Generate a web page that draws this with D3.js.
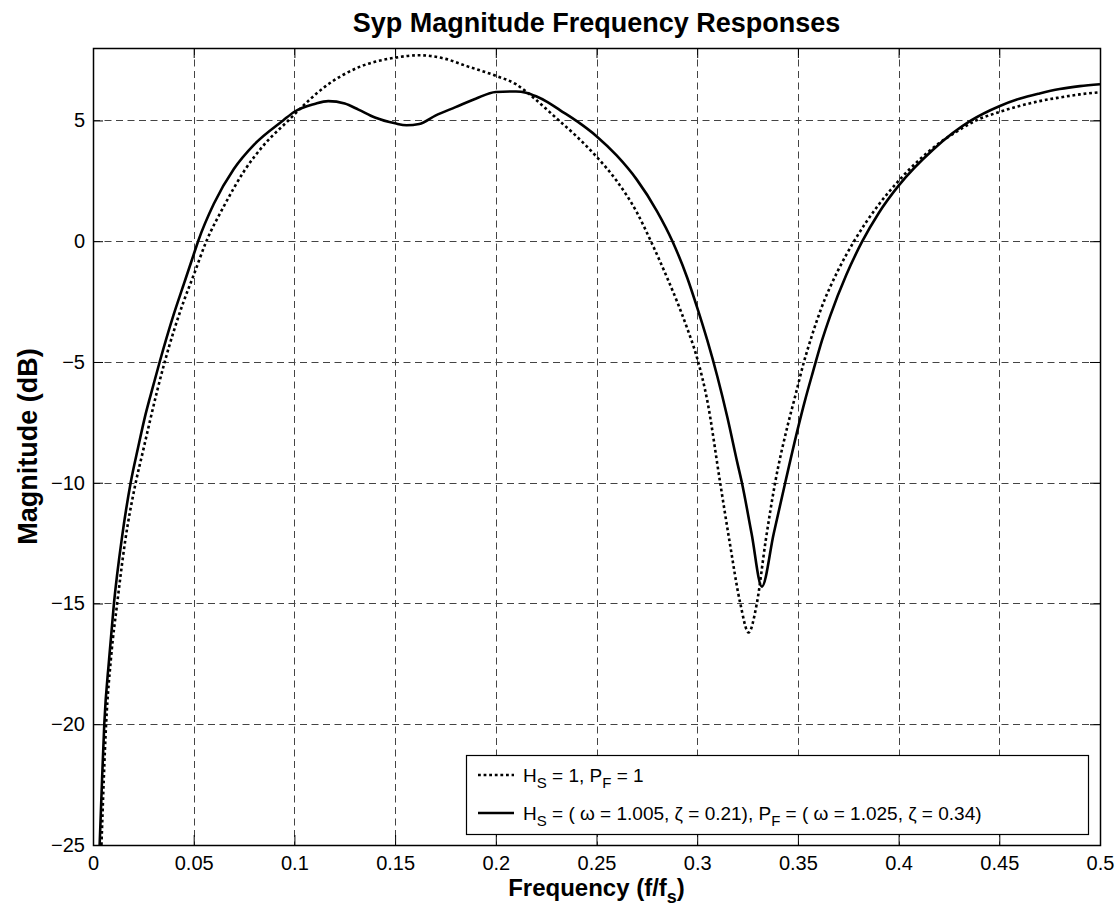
<!DOCTYPE html>
<html>
<head>
<meta charset="utf-8">
<script src="https://cdn.jsdelivr.net/npm/d3@7"></script>
<style>
    body { margin: 0; background: #fff; }
    svg { display: block; font-family: "Liberation Sans", Arial, sans-serif; }
</style>
</head>
<body>
<div id="chart"></div>
<script>
// x values (f/fs) and magnitudes (dB)
const freqFlat = [0.0042, 0.0065, 0.009, 0.012, 0.016, 0.0212, 0.0248, 0.0284, 0.032, 0.0356,
    0.04, 0.045, 0.05, 0.0563, 0.065, 0.075, 0.085, 0.097, 0.1, 0.1152, 0.1318, 0.15, 0.162,
    0.175, 0.1856, 0.2, 0.21, 0.215, 0.22, 0.23, 0.24, 0.25, 0.26, 0.27, 0.277, 0.285, 0.29,
    0.295, 0.3, 0.305, 0.3114, 0.316, 0.3214, 0.3255, 0.3296, 0.334, 0.3387, 0.345, 0.3484,
    0.353, 0.357, 0.3615, 0.37, 0.3779, 0.39, 0.4, 0.41, 0.42, 0.43, 0.4385, 0.45, 0.46, 0.47,
    0.48, 0.49, 0.5];
const magFlat = [-25, -20, -17.2, -15, -12.4, -10, -8.7, -7.4, -6.15, -5,
    -3.75, -2.5, -1.4, 0, 1.45, 2.9, 4.0, 5.0, 5.25, 6.4, 7.2, 7.6, 7.7,
    7.55, 7.25, 6.85, 6.5, 6.2, 5.85, 5.1, 4.35, 3.5, 2.5, 1.2, 0, -1.5, -2.5,
    -3.6, -4.85, -6.6, -10, -12.4, -15, -16.2, -15, -12.4, -10, -7.6, -6.5,
    -5.0, -3.9, -2.8, -1.2, 0, 1.5, 2.5, 3.35, 4.05, 4.6, 5.0, 5.35, 5.6, 5.8,
    5.95, 6.08, 6.17];

const freqTuned = [0.0033, 0.0045, 0.0056, 0.008, 0.0104, 0.0145, 0.0187, 0.0225, 0.026, 0.03,
    0.0331, 0.04, 0.045, 0.05, 0.0522, 0.06, 0.07, 0.08, 0.0944, 0.1, 0.11, 0.1168, 0.125,
    0.1318, 0.14, 0.15, 0.1557, 0.162, 0.17, 0.18, 0.19, 0.2, 0.21, 0.215, 0.22, 0.2257, 0.232,
    0.2406, 0.25, 0.26, 0.27, 0.28, 0.2877, 0.295, 0.3, 0.305, 0.31, 0.315, 0.32, 0.3222, 0.327,
    0.3321, 0.338, 0.3437, 0.35, 0.3535, 0.3575, 0.362, 0.366, 0.374, 0.382, 0.39, 0.4, 0.4172,
    0.436, 0.45, 0.46, 0.47, 0.48, 0.49, 0.5];
const magTuned = [-25, -22.3, -20, -17.3, -15, -12.2, -10, -8.5, -7.2, -5.95,
    -5, -3.05, -1.8, -0.55, 0, 1.55, 3.0, 4.0, 5.0, 5.36, 5.68, 5.8, 5.7,
    5.45, 5.12, 4.88, 4.8, 4.85, 5.2, 5.55, 5.9, 6.18, 6.2, 6.15, 6.0, 5.76, 5.42,
    4.95, 4.35, 3.55, 2.55, 1.25, 0, -1.5, -2.75, -4.1, -5.6, -7.3, -9.2, -10, -12.1,
    -14.3, -12.1, -10, -7.75, -6.6, -5.4, -4.1, -3.1, -1.4, 0, 1.15, 2.3, 3.8,
    5.0, 5.59, 5.9, 6.12, 6.3, 6.42, 6.5];

const xTicks = [0, 0.05, 0.1, 0.15, 0.2, 0.25, 0.3, 0.35, 0.4, 0.45, 0.5];
const yTicks = [-25, -20, -15, -10, -5, 0, 5];

const width = 1117;
const height = 916;
const margin = { top: 48, right: 17, bottom: 71, left: 93 };
const plotW = width - margin.left - margin.right;
const plotH = height - margin.top - margin.bottom;

const svg = d3.select('#chart')
    .append('svg')
    .attr('width', width)
    .attr('height', height);

const x = d3.scaleLinear().domain([0, 0.5]).range([0, plotW]);
const y = d3.scaleLinear().domain([-25, 8]).range([plotH, 0]);

const g = svg.append('g')
    .attr('transform', `translate(${margin.left},${margin.top})`);

// Dashed grid (skip lines that sit on the frame)
g.append('g')
    .selectAll('line')
    .data(xTicks.filter(t => t > 0 && t < 0.5))
    .enter()
    .append('line')
    .attr('x1', d => Math.round(x(d)) + 0.5)
    .attr('x2', d => Math.round(x(d)) + 0.5)
    .attr('y1', 0)
    .attr('y2', plotH)
    .attr('stroke', '#444')
    .attr('stroke-dasharray', '7,4.5');

g.append('g')
    .selectAll('line')
    .data(yTicks.filter(t => t > -25))
    .enter()
    .append('line')
    .attr('x1', 0)
    .attr('x2', plotW)
    .attr('y1', d => Math.round(y(d)) + 0.5)
    .attr('y2', d => Math.round(y(d)) + 0.5)
    .attr('stroke', '#444')
    .attr('stroke-dasharray', '7,4.5');

// Axes with inward ticks on all four sides, labels only left/bottom
const tickFmt = d => d3.format('')(d);

const xAxisBottom = g.append('g')
    .attr('transform', `translate(0,${plotH})`)
    .call(d3.axisBottom(x).tickValues(xTicks).tickSizeInner(-10).tickSizeOuter(0).tickPadding(11).tickFormat(tickFmt));
const xAxisTop = g.append('g')
    .call(d3.axisTop(x).tickValues(xTicks).tickSizeInner(-10).tickSizeOuter(0).tickFormat(''));
const yAxisLeft = g.append('g')
    .call(d3.axisLeft(y).tickValues(yTicks).tickSizeInner(-10).tickSizeOuter(0).tickPadding(8).tickFormat(tickFmt));
const yAxisRight = g.append('g')
    .attr('transform', `translate(${plotW},0)`)
    .call(d3.axisRight(y).tickValues(yTicks).tickSizeInner(-10).tickSizeOuter(0).tickFormat(''));

[xAxisBottom, xAxisTop, yAxisLeft, yAxisRight].forEach(ax => {
    ax.select('.domain').remove();
    ax.selectAll('line').attr('stroke', '#000').attr('stroke-width', 1);
    ax.selectAll('text')
        .attr('fill', '#000')
        .style('font-size', '20px')
        .style('font-family', '"Liberation Sans", Arial, sans-serif');
});

// Frame
g.append('rect')
    .attr('x', 0.5)
    .attr('y', 0.5)
    .attr('width', plotW)
    .attr('height', plotH)
    .attr('fill', 'none')
    .attr('stroke', '#000')
    .attr('stroke-width', 1.5);

// Curves
g.append('clipPath')
    .attr('id', 'plot-clip')
    .append('rect')
    .attr('width', plotW)
    .attr('height', plotH);

const line = d3.line()
    .x(d => x(d[0]))
    .y(d => y(d[1]))
    .curve(d3.curveMonotoneX);

const flatPts = freqFlat.map((f, i) => [f, magFlat[i]]);
const tunedPts = freqTuned.map((f, i) => [f, magTuned[i]]);

g.append('path')
    .datum(flatPts)
    .attr('clip-path', 'url(#plot-clip)')
    .attr('d', line)
    .attr('fill', 'none')
    .attr('stroke', '#000')
    .attr('stroke-width', 2.6)
    .attr('stroke-dasharray', '2.8,2.8');

g.append('path')
    .datum(tunedPts)
    .attr('clip-path', 'url(#plot-clip)')
    .attr('d', line)
    .attr('fill', 'none')
    .attr('stroke', '#000')
    .attr('stroke-width', 2.6);

// Legend
const legend = svg.append('g').attr('transform', 'translate(466,755)');

legend.append('rect')
    .attr('x', 0.5)
    .attr('y', 0.5)
    .attr('width', 622)
    .attr('height', 79)
    .attr('fill', '#fff')
    .attr('stroke', '#000')
    .attr('stroke-width', 1.2);

legend.append('line')
    .attr('x1', 12).attr('x2', 48)
    .attr('y1', 20).attr('y2', 20)
    .attr('stroke', '#000')
    .attr('stroke-width', 2.6)
    .attr('stroke-dasharray', '2.8,2.8');

legend.append('line')
    .attr('x1', 12).attr('x2', 48)
    .attr('y1', 58).attr('y2', 58)
    .attr('stroke', '#000')
    .attr('stroke-width', 2.6);

// Text runs with subscripts: [text, isSub]; the run after a subscript shifts back up
function addRich(sel, parts, subSize, shift) {
    let offset = 0;
    parts.forEach(([txt, sub]) => {
        const t = sel.append('tspan').text(txt);
        if (sub) {
            t.attr('dy', shift).style('font-size', subSize);
            offset = shift;
        } else if (offset) {
            t.attr('dy', -offset);
            offset = 0;
        }
    });
}

const leg1 = legend.append('text')
    .attr('x', 57).attr('y', 27)
    .style('font-size', '19px');
addRich(leg1, [['H', false], ['S', true], [' = 1, P', false], ['F', true], [' = 1', false]], '15px', 6);

const leg2 = legend.append('text')
    .attr('x', 57).attr('y', 65)
    .style('font-size', '19px');
addRich(leg2, [['H', false], ['S', true], [' = ( \u03c9 = 1.005, \u03b6 = 0.21), P', false], ['F', true],
    [' = ( \u03c9 = 1.025, \u03b6 = 0.34)', false]], '15px', 6);

// Title and axis labels
svg.append('text')
    .attr('x', margin.left + plotW / 2)
    .attr('y', 32)
    .attr('text-anchor', 'middle')
    .style('font-size', '27px')
    .style('font-weight', 'bold')
    .text('Syp Magnitude Frequency Responses');

svg.append('text')
    .attr('transform', `translate(37,${margin.top + plotH / 2}) rotate(-90)`)
    .attr('text-anchor', 'middle')
    .style('font-size', '27px')
    .style('font-weight', 'bold')
    .text('Magnitude (dB)');

const xLabel = svg.append('text')
    .attr('x', margin.left + plotW / 2)
    .attr('y', 896)
    .attr('text-anchor', 'middle')
    .style('font-size', '24px')
    .style('font-weight', 'bold');
addRich(xLabel, [['Frequency (f/f', false], ['s', true], [')', false]], '18px', 7);
</script>
</body>
</html>
